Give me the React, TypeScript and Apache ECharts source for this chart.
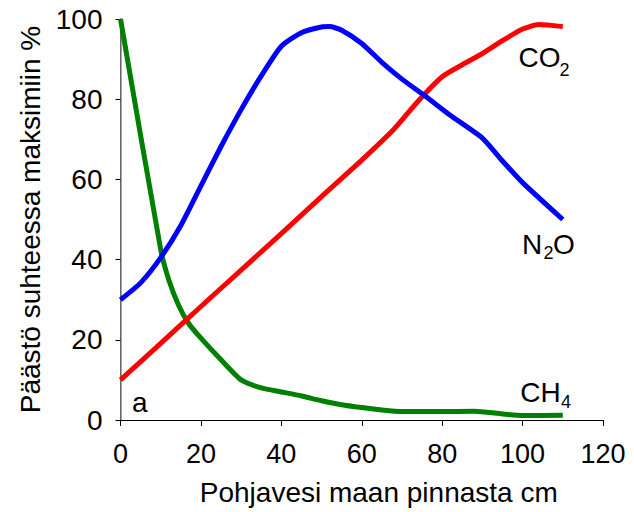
import React, { useEffect, useRef } from "react";
import * as echarts from "echarts";

const xTicks = [0, 20, 40, 60, 80, 100, 120];
const yTicks = [0, 20, 40, 60, 80, 100];

const ch4Points: [number, number][] = [
  [0, 100], [10, 42.5], [12, 35], [14.5, 28.5], [17, 24], [20, 20.4],
  [25, 15], [30, 10], [35, 8], [40, 7], [45, 6], [50, 4.8], [55, 3.8],
  [60, 3.1], [65, 2.5], [70, 2.1], [80, 2.1], [88, 2.2], [95, 1.5],
  [100, 1.1], [110, 1.2],
];

const co2Points: [number, number][] = [
  [0, 10], [10, 19.1], [20, 28.3], [30, 37.4], [40, 46.5], [50, 55.7],
  [60, 64.8], [68, 72.5], [74, 79.5], [80, 85.6], [85, 88.6], [90, 91.4],
  [95, 94.6], [100, 97.5], [104, 98.6], [110, 98.1],
];

const n2oPoints: [number, number][] = [
  [0, 30], [5, 34.2], [10, 40.5], [15, 48.5], [20, 58.4], [25, 68.2],
  [30, 77.4], [35, 85.8], [40, 93.2], [45, 96.6], [50, 98], [52, 98.1],
  [55, 97.2], [60, 93.9], [65, 89.2], [70, 85], [76, 80.6], [82, 76],
  [90, 70.3], [95, 64.6], [100, 59.2], [110, 50],
];

const seriesNames = ["CH4", "CO2", "N2O"];
const seriesColors = ["#008000", "#ff0000", "#0000ff"];

const xTitle = "Pohjavesi maan pinnasta cm";
const yTitle = "Päästö suhteessa maksimiin %";

const FONT = "'Liberation Sans', Arial, sans-serif";

function label(main: string, sub: string, rest: string, x: number, y: number, subX: number, subY: number, restX: number) {
  const children: any[] = [
    { type: "text", x, y, style: { text: main, font: `28px ${FONT}`, fill: "#000", align: "left", verticalAlign: "middle" } },
    { type: "text", x: subX, y: subY, style: { text: sub, font: `18px ${FONT}`, fill: "#000", align: "left", verticalAlign: "middle" } },
  ];
  if (rest) {
    children.push({ type: "text", x: restX, y, style: { text: rest, font: `28px ${FONT}`, fill: "#000", align: "left", verticalAlign: "middle" } });
  }
  return { type: "group", children };
}

export default function App() {
  const ref = useRef<HTMLDivElement>(null);
  useEffect(() => {
    if (!ref.current) return;
    const chart = echarts.init(ref.current, undefined, { renderer: "svg" });
    const dataSets = [ch4Points, co2Points, n2oPoints];
    chart.setOption({
      animation: false,
      backgroundColor: "#fff",
      grid: { left: 120.5, right: 31, top: 19, bottom: 92, containLabel: false },
      xAxis: [
        {
          type: "value",
          min: 0,
          max: 120,
          interval: 20,
          name: xTitle,
          nameLocation: "middle",
          nameGap: 58,
          nameTextStyle: { fontFamily: FONT, fontSize: 28, color: "#000", padding: [0, 0, 0, 34] },
          axisLine: { show: true, lineStyle: { color: "#000", width: 1 } },
          axisTick: { show: true, length: 6, lineStyle: { color: "#000" } },
          axisLabel: {
            fontFamily: FONT, fontSize: 27, color: "#000", margin: 20,
            formatter: (v: number) => (xTicks.includes(v) ? String(v) : ""),
          },
          splitLine: { show: false },
        },
        {
          type: "value", position: "top", min: 0, max: 120,
          axisLine: { show: true, lineStyle: { color: "#000", width: 1 } },
          axisTick: { show: false }, axisLabel: { show: false }, splitLine: { show: false },
        },
      ],
      yAxis: [
        {
          type: "value",
          min: 0,
          max: 100,
          interval: 20,
          name: yTitle,
          nameLocation: "middle",
          nameRotate: 90,
          nameGap: 72,
          nameTextStyle: { fontFamily: FONT, fontSize: 28, color: "#000" },
          axisLine: { show: true, lineStyle: { color: "#000", width: 1 } },
          axisTick: { show: true, length: 5, lineStyle: { color: "#000" } },
          axisLabel: {
            fontFamily: FONT, fontSize: 28, color: "#000", margin: 18,
            formatter: (v: number) => (yTicks.includes(v) ? String(v) : ""),
          },
          splitLine: { show: false },
        },
        {
          type: "value", position: "right", min: 0, max: 100,
          axisLine: { show: true, lineStyle: { color: "#888", width: 1.5 } },
          axisTick: { show: false }, axisLabel: { show: false }, splitLine: { show: false },
        },
      ],
      series: dataSets.map((d, i) => ({
        name: seriesNames[i],
        type: "line",
        data: d,
        smooth: 0.2,
        showSymbol: false,
        lineStyle: { color: seriesColors[i], width: 5, cap: "butt", join: "round" },
        itemStyle: { color: seriesColors[i] },
        z: 2 + i,
      })),
      graphic: [
        label("CO", "2", "", 518.5, 57.6, 559.5, 69.8, 0),
        label("N", "2", "O", 522, 244, 543.5, 252.5, 553),
        label("CH", "4", "", 520.3, 392, 561, 402, 0),
        { type: "text", x: 132, y: 402, style: { text: "a", font: `28px ${FONT}`, fill: "#000", align: "left", verticalAlign: "middle" } },
      ],
    });
    return () => chart.dispose();
  }, []);
  return <div ref={ref} style={{ position: "absolute", left: 0, top: 0, width: 634, height: 512 }} />;
}
